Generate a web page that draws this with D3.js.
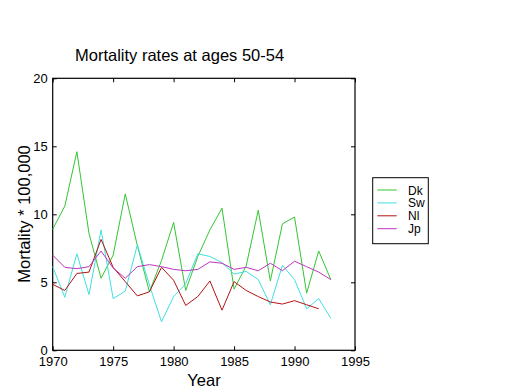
<!DOCTYPE html>
<html><head><meta charset="utf-8">
<script src="https://cdn.jsdelivr.net/npm/d3@7"></script>
<style>body{margin:0;background:#fff}svg{display:block;font-family:"Liberation Sans",Arial,sans-serif}</style>
</head><body><svg id="c" width="520" height="390"></svg>
<script>
const years = d3.range(1970, 1994);
const dk = [8.9,10.6,14.6,8.6,5.3,7.0,11.5,7.7,4.3,6.6,9.4,4.4,6.9,8.85,10.45,4.5,6.2,10.3,5.1,9.3,9.8,4.2,7.3,5.2];
const sw = [6.15,3.9,7.1,4.1,8.85,3.8,4.35,7.75,4.8,2.1,3.95,4.9,7.1,6.9,6.45,5.6,5.8,5.2,3.35,6.25,5.2,3.05,3.8,2.35];
const nl = [4.85,4.4,5.65,5.75,8.15,6.1,5.05,4.0,4.3,6.1,5.15,3.3,3.95,5.1,2.95,5.05,4.4,3.95,3.55,3.4,3.65,3.35,3.05];
const jp = [7.0,6.1,6.0,6.15,7.3,6.05,5.3,6.15,6.3,6.15,5.95,5.85,5.95,6.5,6.4,5.95,6.1,5.85,6.4,5.85,6.55,6.15,5.75,5.2];
const seriesNames = ["Dk","Sw","Nl","Jp"];
const seriesColors = ["#33c633","#40e0e0","#b41414","#c034c0"];
const xTicks = [1970,1975,1980,1985,1990,1995];
const yTicks = [0,5,10,15,20];

const svg = d3.select("#c");
const L=52.7, R=355, T=78.3, B=350.3;
const x = d3.scaleLinear().domain([1970,1995]).range([L,R]);
const y = d3.scaleLinear().domain([0,20]).range([B,T]);

const g = svg.append("g");
// frame
g.append("rect").attr("x",L).attr("y",T).attr("width",R-L).attr("height",B-T)
  .attr("fill","none").attr("stroke","#000").attr("stroke-width",1.2);

const tl=4;
const axB = d3.axisBottom(x).tickValues(xTicks).tickFormat(d3.format("d")).tickSizeInner(-tl).tickSizeOuter(0).tickPadding(6);
const axT = d3.axisTop(x).tickValues(xTicks).tickFormat("").tickSizeInner(-tl).tickSizeOuter(0);
const axL = d3.axisLeft(y).tickValues(yTicks).tickSizeInner(-tl).tickSizeOuter(0).tickPadding(5);
const axR = d3.axisRight(y).tickValues(yTicks).tickFormat("").tickSizeInner(-tl).tickSizeOuter(0);
function style(sel){sel.select(".domain").remove();sel.selectAll("line").attr("stroke","#000");sel.selectAll("text").attr("font-size",13).attr("fill","#000").attr("font-family","Liberation Sans, Arial, sans-serif");}
g.append("g").attr("transform",`translate(0,${B})`).call(axB).call(style);
g.append("g").attr("transform",`translate(0,${T})`).call(axT).call(style);
g.append("g").attr("transform",`translate(${L},0)`).call(axL).call(style);
g.append("g").attr("transform",`translate(${R},0)`).call(axR).call(style);

const line = d3.line().x((d,i)=>x(years[i])).y(d=>y(d));
[dk,sw,nl,jp].forEach((s,i)=>{
  g.append("path").datum(s).attr("d",line).attr("fill","none")
   .attr("stroke",seriesColors[i]).attr("stroke-width",1);
});

svg.append("text").attr("x",75).attr("y",61).attr("font-size",16.5).text("Mortality rates at ages 50-54");
svg.append("text").attr("x",204).attr("y",386).attr("text-anchor","middle").attr("font-size",16.5).text("Year");
svg.append("text").attr("transform","translate(30,214) rotate(-90)").attr("text-anchor","middle").attr("font-size",16.5).text("Mortality * 100,000");

// legend
const lg = svg.append("g");
lg.append("rect").attr("x",372.7).attr("y",177.7).attr("width",55.6).attr("height",66).attr("fill","#fff").attr("stroke","#000").attr("stroke-width",1);
seriesNames.forEach((n,i)=>{
  const yy = 190 + i*12.9;
  lg.append("line").attr("x1",377.3).attr("x2",396.7).attr("y1",yy).attr("y2",yy).attr("stroke",seriesColors[i]);
  lg.append("text").attr("x",408).attr("y",yy+4.5).attr("font-size",12).text(n);
});
</script></body></html>
